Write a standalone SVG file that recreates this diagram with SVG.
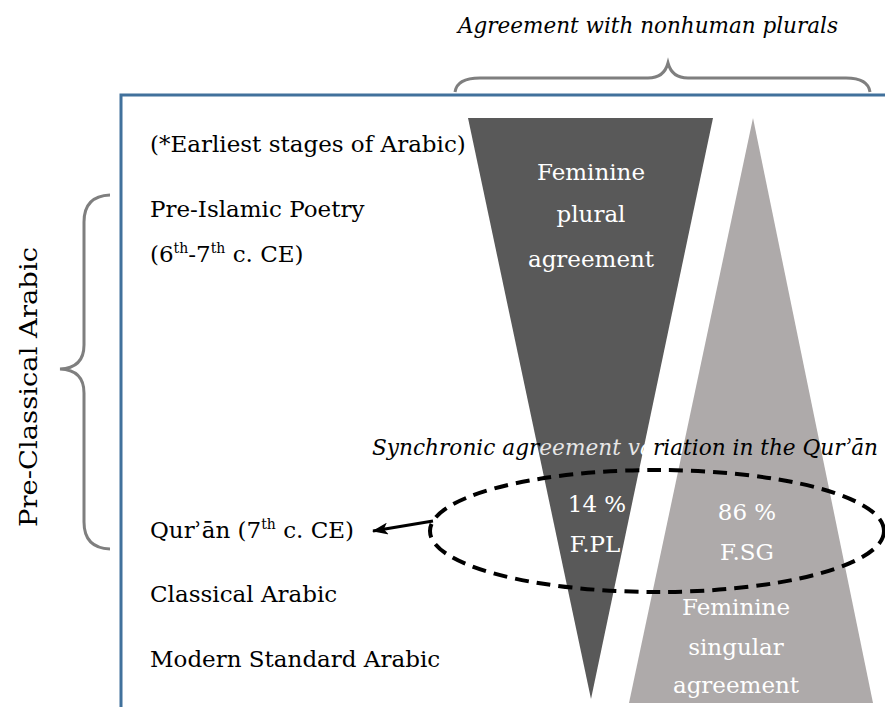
<svg xmlns="http://www.w3.org/2000/svg" width="885" height="707" viewBox="0 0 885 707">
<style>
  .t { font-family: "DejaVu Serif", "Liberation Serif", serif; font-size: 23px; fill: #000; }
  .w { font-family: "DejaVu Serif", "Liberation Serif", serif; font-size: 23px; fill: #fff; text-anchor: middle; }
  .i { font-style: italic; }
  .brace { fill: none; stroke: #7f7f7f; stroke-width: 3; }
  .sup { font-size: 14px; }
  .lt { fill: #e6e6e6; }
</style>
<defs>
  <marker id="ah" markerWidth="16" markerHeight="12" refX="15" refY="6" orient="auto" markerUnits="userSpaceOnUse">
    <path d="M0,0 L16,6 L0,12 L4,6 z" fill="#000"/>
  </marker>
</defs>
<rect width="885" height="707" fill="#fff"/>

<g id="frame">
  <path d="M121,707 L121,95 L885,95" fill="none" stroke="#41719c" stroke-width="3"/>
</g>

<g id="top-brace">
  <path class="brace" d="M455,92 Q457,78 480,78 L648,78 Q664,78 668,63 Q672,78 688,78 L846,78 Q868,78 870,92"/>
  <text class="t i" x="458" y="33" textLength="380" lengthAdjust="spacingAndGlyphs">Agreement with nonhuman plurals</text>
</g>

<g id="left-brace">
  <path class="brace" d="M110,195 Q84,196 84,222 L84,345 Q84,368 60,369 Q84,370 84,393 L84,522 Q84,548 110,549"/>
  <text class="t" transform="translate(37,387) rotate(-90)" text-anchor="middle" style="font-size:25px" textLength="280" lengthAdjust="spacingAndGlyphs">Pre-Classical Arabic</text>
</g>

<g id="fpl-triangle">
  <polygon points="468,118 713,118 591,699" fill="#595959"/>
  <text class="w" x="591" y="180">Feminine</text>
  <text class="w" x="591" y="222">plural</text>
  <text class="w" x="591" y="267">agreement</text>
</g>

<g id="fsg-triangle">
  <polygon points="753,118 873,703 629,703" fill="#aeaaaa"/>
  <text class="w" x="736" y="615">Feminine</text>
  <text class="w" x="736" y="655">singular</text>
  <text class="w" x="736" y="693">agreement</text>
</g>

<g id="periods">
  <text class="t" x="150" y="152">(*Earliest stages of Arabic)</text>
  <text class="t" x="150" y="217">Pre-Islamic Poetry</text>
  <text class="t" x="150" y="262">(6<tspan class="sup" dy="-9">th</tspan><tspan dy="9">-7</tspan><tspan class="sup" dy="-9">th</tspan><tspan dy="9"> c. CE)</tspan></text>
  <text class="t" x="150" y="538">Qurʾān (7<tspan class="sup" dy="-9">th</tspan><tspan dy="9"> c. CE)</tspan></text>
  <text class="t" x="150" y="602">Classical Arabic</text>
  <text class="t" x="150" y="667">Modern Standard Arabic</text>
</g>

<g id="quran-variation">
  <text class="t i" x="372" y="455" textLength="506" lengthAdjust="spacingAndGlyphs">Synchronic agr<tspan class="lt">eement v</tspan><tspan fill="#fff">a</tspan>riation in the Qurʾān</text>
  <text class="w" x="597" y="512">14 %</text>
  <text class="w" x="595" y="552">F.PL</text>
  <text class="w" x="747" y="520">86 %</text>
  <text class="w" x="747" y="560">F.SG</text>
</g>

<g id="connectors">
  <ellipse cx="657" cy="531" rx="227" ry="61" fill="none" stroke="#000" stroke-width="4" stroke-dasharray="14 8"/>
  <path d="M433,521 L373,531" fill="none" stroke="#000" stroke-width="3" marker-end="url(#ah)"/>
</g>
</svg>
